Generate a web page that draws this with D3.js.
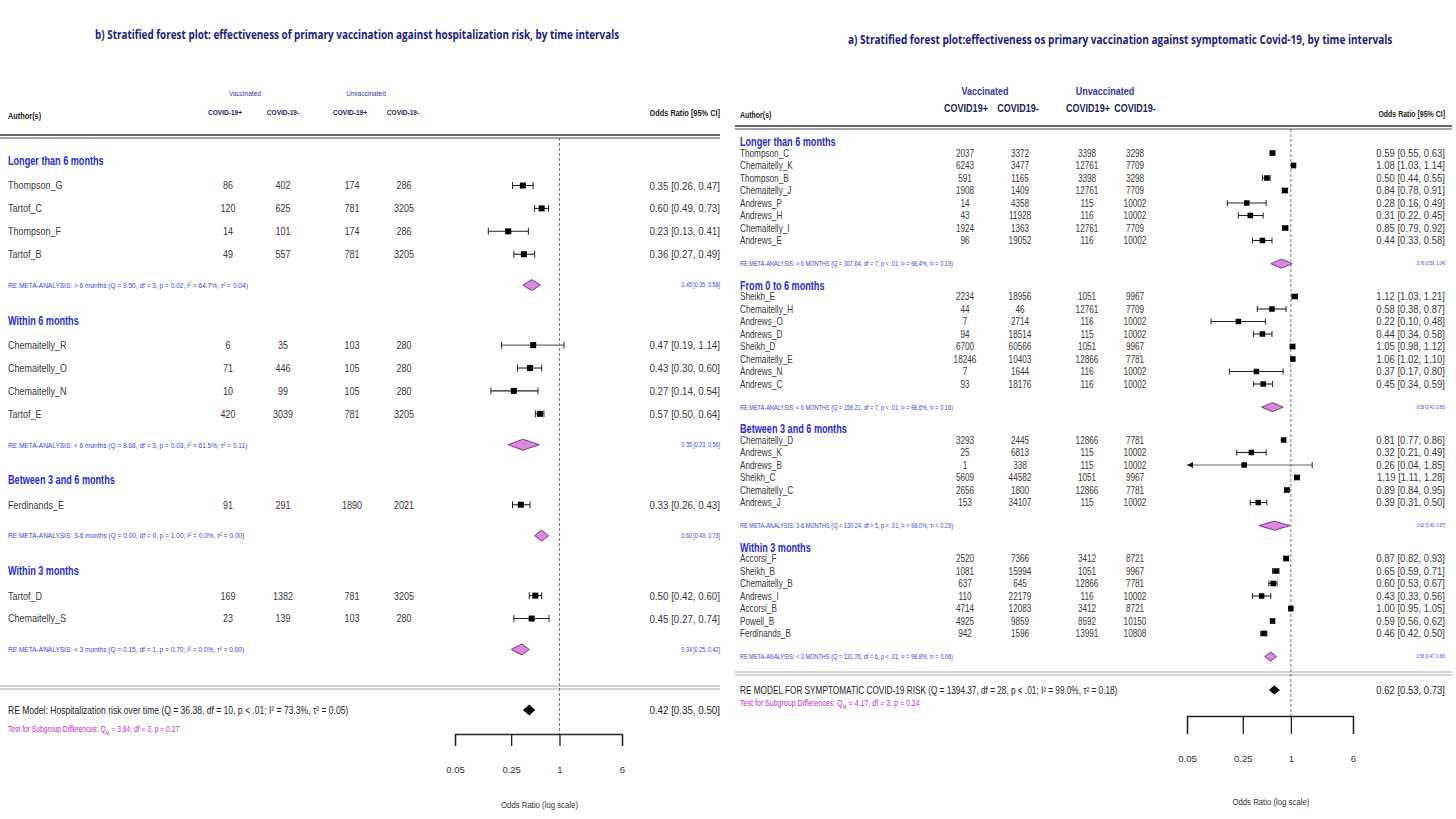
<!DOCTYPE html>
<html><head><meta charset="utf-8">
<script src="https://cdnjs.cloudflare.com/ajax/libs/d3/7.8.5/d3.min.js"></script>
<style>body{margin:0;background:#fff}svg{display:block}</style>
</head><body>
<svg id="chart" width="1456" height="819"></svg>
<script>
// ---------------- DATA: panel b (hospitalization) ----------------
const hospTitle = "b) Stratified forest plot: effectiveness of primary vaccination against hospitalization risk, by time intervals";
const hospGroups = ["Longer than 6 months","Within 6 months","Between 3 and 6 months","Within 3 months"];
const hospGroupSizes = [4,4,1,2];
const hospStudies = ["Thompson_G","Tartof_C","Thompson_F","Tartof_B","Chemaitelly_R","Chemaitelly_O","Chemaitelly_N","Tartof_E","Ferdinands_E","Tartof_D","Chemaitelly_S"];
const hospVaxPos = [86,120,14,49,6,71,10,420,91,169,23];
const hospVaxNeg = [402,625,101,557,35,446,99,3039,291,1382,139];
const hospUnvPos = [174,781,174,781,103,105,105,781,1890,781,103];
const hospUnvNeg = [286,3205,286,3205,280,280,280,3205,2021,3205,280];
const hospOR = [0.35,0.60,0.23,0.36,0.47,0.43,0.27,0.57,0.33,0.50,0.45];
const hospLo = [0.26,0.49,0.13,0.27,0.19,0.30,0.14,0.50,0.26,0.42,0.27];
const hospHi = [0.47,0.73,0.41,0.49,1.14,0.60,0.54,0.64,0.43,0.60,0.74];
const hospMetaLabels = [
  "RE META-ANALYSIS: > 6 months (Q = 9.50, df = 3, p = 0.02; I\u00b2 = 64.7%, \u03c4\u00b2 = 0.04)",
  "RE META-ANALYSIS: < 6 months (Q = 8.68, df = 3, p = 0.03; I\u00b2 = 61.5%, \u03c4\u00b2 = 0.11)",
  "RE META-ANALYSIS: 3-6 months (Q = 0.00, df = 0, p = 1.00; I\u00b2 = 0.0%, \u03c4\u00b2 = 0.00)",
  "RE META-ANALYSIS: < 3 months (Q = 0.15, df = 1, p = 0.70; I\u00b2 = 0.0%, \u03c4\u00b2 = 0.00)"];
const hospMetaOR = [0.45,0.35,0.60,0.34];
const hospMetaLo = [0.35,0.23,0.49,0.25];
const hospMetaHi = [0.58,0.56,0.73,0.42];
const hospOverall = [0.42,0.35,0.50];
const hospOverallLabel = "RE Model: Hospitalization risk over time (Q = 36.38, df = 10, p < .01; I\u00b2 = 73.3%, \u03c4\u00b2 = 0.05)";
const hospTest = ["Test for Subgroup Differences: Q", "M", " = 3.94, df = 3, p = 0.27"];
const hospColHeads = ["COVID-19+","COVID-19-","COVID-19+","COVID-19-"];

// ---------------- DATA: panel a (symptomatic) ----------------
const sympTitle = "a) Stratified forest plot:effectiveness os primary vaccination against symptomatic Covid-19, by time intervals";
const sympGroups = ["Longer than 6 months","From 0 to 6 months","Between 3 and 6 months","Within 3 months"];
const sympGroupSizes = [8,8,6,7];
const sympStudies = ["Thompson_C","Chemaitelly_K","Thompson_B","Chemaitelly_J","Andrews_P","Andrews_H","Chemaitelly_I","Andrews_E",
  "Sheikh_E","Chemaitelly_H","Andrews_O","Andrews_D","Sheikh_D","Chemaitelly_E","Andrews_N","Andrews_C",
  "Chemaitelly_D","Andrews_K","Andrews_B","Sheikh_C","Chemaitelly_C","Andrews_J",
  "Accorsi_F","Sheikh_B","Chemaitelly_B","Andrews_I","Accorsi_B","Powell_B","Ferdinands_B"];
const sympVaxPos = [2037,6243,591,1908,14,43,1924,96, 2234,44,7,94,6700,18246,7,93, 3293,25,1,5609,2656,153, 2520,1081,637,110,4714,4925,942];
const sympVaxNeg = [3372,3477,1165,1409,4358,11928,1363,19052, 18956,46,2714,18514,60566,10403,1644,18176, 2445,6813,338,44582,1800,34107, 7366,15994,645,22179,12083,9859,1596];
const sympUnvPos = [3398,12761,3398,12761,115,116,12761,116, 1051,12761,116,115,1051,12866,116,116, 12866,115,115,1051,12866,115, 3412,1051,12866,116,3412,8592,13991];
const sympUnvNeg = [3298,7709,3298,7709,10002,10002,7709,10002, 9967,7709,10002,10002,9967,7781,10002,10002, 7781,10002,10002,9967,7781,10002, 8721,9967,7781,10002,8721,10150,10808];
const sympOR = [0.59,1.08,0.50,0.84,0.28,0.31,0.85,0.44, 1.12,0.58,0.22,0.44,1.05,1.06,0.37,0.45, 0.81,0.32,0.26,1.19,0.89,0.39, 0.87,0.65,0.60,0.43,1.00,0.59,0.46];
const sympLo = [0.55,1.03,0.44,0.78,0.16,0.22,0.79,0.33, 1.03,0.38,0.10,0.34,0.98,1.02,0.17,0.34, 0.77,0.21,0.04,1.11,0.84,0.31, 0.82,0.59,0.53,0.33,0.95,0.56,0.42];
const sympHi = [0.63,1.14,0.55,0.91,0.49,0.45,0.92,0.58, 1.21,0.87,0.48,0.58,1.12,1.10,0.80,0.59, 0.86,0.49,1.85,1.28,0.95,0.50, 0.93,0.71,0.67,0.56,1.05,0.62,0.50];
const sympMetaLabels = [
  "RE META-ANALYSIS: > 6 MONTHS (Q = 307.64, df = 7, p < .01; I\u00b2 = 98.4%, \u03c4\u00b2 = 0.19)",
  "RE META-ANALYSIS: < 6 MONTHS (Q = 159.21, df = 7, p < .01; I\u00b2 = 98.6%, \u03c4\u00b2 = 0.16)",
  "RE META-ANALYSIS: 3-6 MONTHS (Q = 130.24, df = 5, p < .01; I\u00b2 = 98.0%, \u03c4\u00b2 = 0.29)",
  "RE META-ANALYSIS: < 3 MONTHS (Q = 131.76, df = 6, p < .01; I\u00b2 = 98.8%, \u03c4\u00b2 = 0.06)"];
const sympMetaOR = [0.76,0.59,0.62,0.56];
const sympMetaLo = [0.56,0.43,0.40,0.47];
const sympMetaHi = [1.04,0.80,0.97,0.66];
const sympOverall = [0.62,0.53,0.73];
const sympOverallLabel = "RE MODEL FOR SYMPTOMATIC COVID-19 RISK (Q = 1394.37, df = 28, p < .01; I\u00b2 = 99.0%, \u03c4\u00b2 = 0.18)";
const sympTest = ["Test for Subgroup Differences: Q", "M", " = 4.17, df = 3, p = 0.24"];
const sympColHeads = ["COVID19+","COVID19-","COVID19+","COVID19-"];

// ---------------- shared ----------------
const axisTicks = [0.05, 0.25, 1, 6];
const groupHeads = ["Vaccinated","Unvaccinated"];

const svg = d3.select("#chart");
const FONT = "'Liberation Sans', Arial, sans-serif";

function T(g, x, y, s, o = {}) {
  const t = g.append("text")
    .attr("dy", "0.35em")
    .attr("text-anchor", o.anchor || "start")
    .attr("font-family", o.family || FONT)
    .attr("font-size", o.size || 10)
    .attr("font-weight", o.weight || "normal")
    .attr("fill", o.color || "#333")
    .text(s);
  let sx = o.sx ?? 0.82;
  if (o.len) { sx = o.len / t.node().getComputedTextLength(); }
  t.attr("transform", `translate(${x},${y}) scale(${sx},1)`);
  return t;
}
const fmtCI = (a, b, c) => `${a.toFixed(2)} [${b.toFixed(2)}, ${c.toFixed(2)}]`;

function forest(c) {
  const g = svg.append("g");
  const x = d3.scaleLog().domain([axisTicks[0], axisTicks[axisTicks.length - 1]]).range(c.xRange);
  const y = d3.scaleLinear().domain([0, 1]).range([c.y0, c.y0 + c.rowH]);

  // compute row units
  let u = 0, idx = 0;
  const heads = [], rows = [], metas = [];
  c.groups.forEach((name, gi) => {
    heads.push({ name, u });
    u += c.hg;
    for (let k = 0; k < c.sizes[gi]; k++) { rows.push({ i: idx++, u }); u += 1; }
    u -= 1;
    u += c.mg;
    metas.push({ gi, u });
    u += c.ng;
  });

  // title
  T(g, c.titleX, c.titleY, c.title, { family: "'Open Sans', 'Liberation Sans', sans-serif", weight: "bold", size: 12.5, color: "#1c1c80", len: c.titleLen });

  // column headers
  T(g, c.vaxX[0], c.vaxY, groupHeads[0], { anchor: "middle", size: c.vaxSize, color: "#35359a", weight: c.vaxWeight });
  T(g, c.vaxX[1], c.vaxY, groupHeads[1], { anchor: "middle", size: c.vaxSize, color: "#35359a", weight: c.vaxWeight });
  c.colHeads.forEach((h, k) => T(g, c.headX[k], c.headY, h, { anchor: "middle", size: c.headSize, weight: "bold", color: "#1d1d5e" }));
  T(g, c.nameX, c.authY, "Author(s)", { size: c.authSize, weight: "bold", color: "#222" });
  T(g, c.ciX, c.orHeadY, "Odds Ratio [95% CI]", { anchor: "end", size: c.authSize, weight: "bold", color: "#222" });

  // double lines
  [c.topLine, c.botLine].forEach((ly, k) => {
    [0, 3].forEach(d => g.append("line").attr("x1", c.lineX[0]).attr("x2", c.lineX[1])
      .attr("y1", ly + d).attr("y2", ly + d)
      .attr("stroke", k === 0 ? (d ? "#888" : "#333") : "#aaa").attr("stroke-width", k === 0 ? 1.4 : 1.1));
  });

  // reference line at OR = 1
  g.append("line").attr("x1", x(1)).attr("x2", x(1)).attr("y1", c.topLine + 3).attr("y2", c.axisY)
    .attr("stroke", "#555").attr("stroke-width", 0.8).attr("stroke-dasharray", "3,2");

  // group headers
  heads.forEach(h => T(g, c.nameX, y(h.u), h.name, { size: c.grpSize, weight: "bold", color: "#2a2ad2", sx: 0.76 }));

  // studies
  const xmin = axisTicks[0];
  rows.forEach(r => {
    const i = r.i, yy = y(r.u);
    T(g, c.nameX, yy, c.studies[i], { size: c.nameSize, color: "#383838" });
    [c.vaxPos, c.vaxNeg, c.unvPos, c.unvNeg].forEach((arr, k) =>
      T(g, c.colX[k], yy, String(arr[i]), { anchor: "middle", size: c.nameSize, color: "#383838" }));
    const lo = Math.max(c.lo[i], xmin);
    g.append("line").attr("x1", x(lo)).attr("x2", x(c.hi[i])).attr("y1", yy).attr("y2", yy)
      .attr("stroke", c.hi[i] / c.lo[i] > 5 ? "#666" : "#222").attr("stroke-width", 1.1);
    if (c.lo[i] < xmin) {
      g.append("path").attr("d", d3.line()([[x(xmin), yy], [x(xmin) + 6, yy - 3], [x(xmin) + 6, yy + 3]]) + "Z").attr("fill", "#111");
    } else {
      g.append("line").attr("x1", x(lo)).attr("x2", x(lo)).attr("y1", yy - c.cap).attr("y2", yy + c.cap).attr("stroke", "#222").attr("stroke-width", 1);
    }
    g.append("line").attr("x1", x(c.hi[i])).attr("x2", x(c.hi[i])).attr("y1", yy - c.cap).attr("y2", yy + c.cap).attr("stroke", "#222").attr("stroke-width", 1);
    g.append("rect").attr("x", x(c.or[i]) - c.sq / 2).attr("y", yy - c.sq / 2).attr("width", c.sq).attr("height", c.sq).attr("fill", "#000");
    T(g, c.ciX, yy, fmtCI(c.or[i], c.lo[i], c.hi[i]), { anchor: "end", size: c.ciSize, color: "#383838", sx: c.ciSx });
  });

  // meta rows
  const diamond = (o, l, h, yy, hh) => `M${x(l)},${yy}L${x(o)},${yy - hh}L${x(h)},${yy}L${x(o)},${yy + hh}Z`;
  metas.forEach(m => {
    const yy = y(m.u), k = m.gi;
    T(g, c.nameX, yy, c.metaLabels[k], { size: c.metaSize, color: "#4040d8" });
    g.append("path").attr("d", diamond(c.metaOR[k], c.metaLo[k], c.metaHi[k], yy, c.dh))
      .attr("fill", "#d98ad9").attr("stroke", "#7b2f8e").attr("stroke-width", 1);
    T(g, c.ciX, yy, fmtCI(c.metaOR[k], c.metaLo[k], c.metaHi[k]), { anchor: "end", size: c.metaCiSize, color: "#4040d8" });
  });

  // overall
  T(g, c.nameX, c.reY, c.overallLabel, { size: c.reSize, color: "#222", sx: c.reSx });
  g.append("path").attr("d", diamond(c.overall[0], c.overall[1], c.overall[2], c.reY, c.dh)).attr("fill", "#000");
  T(g, c.ciX, c.reY, fmtCI(...c.overall), { anchor: "end", size: c.ciSize, color: "#222", sx: c.ciSx });
  const tt = T(g, c.nameX, c.testY, c.test[0], { size: c.testSize, color: "#c02ec8" });
  tt.append("tspan").attr("font-size", c.testSize * 0.7).attr("baseline-shift", "sub").text(c.test[1]);
  tt.append("tspan").text(c.test[2]);

  // axis
  const ax = d3.axisBottom(x).tickValues(axisTicks).tickFormat(d => String(d))
    .tickSize(c.tickLen).tickSizeOuter(c.tickLen).tickPadding(c.tickPad);
  const ag = g.append("g").attr("transform", `translate(0,${c.axisY})`).call(ax);
  ag.selectAll("path,line").attr("stroke", "#222").attr("stroke-width", 1.3);
  ag.selectAll("text").attr("font-family", FONT).attr("font-size", 9.5).attr("fill", "#333");
  T(g, x(1) - 20, c.xlabY, "Odds Ratio (log scale)", { anchor: "middle", size: 9.5, color: "#333" });
}

forest({
  title: hospTitle, titleX: 95, titleY: 35, titleLen: 525,
  groups: hospGroups, sizes: hospGroupSizes, studies: hospStudies,
  vaxPos: hospVaxPos, vaxNeg: hospVaxNeg, unvPos: hospUnvPos, unvNeg: hospUnvNeg,
  or: hospOR, lo: hospLo, hi: hospHi,
  metaLabels: hospMetaLabels, metaOR: hospMetaOR, metaLo: hospMetaLo, metaHi: hospMetaHi,
  overall: hospOverall, overallLabel: hospOverallLabel, test: hospTest, colHeads: hospColHeads,
  xRange: [455, 622], y0: 161, rowH: 22.9, hg: 1.07, mg: 1.35, ng: 1.55,
  nameX: 8, colX: [228, 283, 352, 404], headX: [225, 283, 350, 403], headY: 112, headSize: 8,
  vaxX: [245, 366], vaxY: 93, vaxSize: 8, vaxWeight: "normal",
  authY: 116, orHeadY: 113, authSize: 9, ciX: 720, lineX: [0, 720],
  topLine: 135, botLine: 686, grpSize: 12, nameSize: 11, ciSize: 11.5, ciSx: 0.85,
  metaSize: 8, metaCiSize: 6.5, reY: 710, reSize: 10.7, reSx: 0.8, testY: 729, testSize: 8.2,
  sq: 6, cap: 3.5, dh: 5.5, axisY: 734, tickLen: 12, tickPad: 20, xlabY: 805
});

forest({
  title: sympTitle, titleX: 848, titleY: 40, titleLen: 545,
  groups: sympGroups, sizes: sympGroupSizes, studies: sympStudies,
  vaxPos: sympVaxPos, vaxNeg: sympVaxNeg, unvPos: sympUnvPos, unvNeg: sympUnvNeg,
  or: sympOR, lo: sympLo, hi: sympHi,
  metaLabels: sympMetaLabels, metaOR: sympMetaOR, metaLo: sympMetaLo, metaHi: sympMetaHi,
  overall: sympOverall, overallLabel: sympOverallLabel, test: sympTest, colHeads: sympColHeads,
  xRange: [1187, 1353], y0: 142, rowH: 12.5, hg: 0.88, mg: 1.85, ng: 1.75,
  nameX: 740, colX: [965, 1020, 1087, 1135], headX: [966, 1018, 1088, 1135], headY: 108, headSize: 11,
  vaxX: [985, 1105], vaxY: 91, vaxSize: 11, vaxWeight: "bold",
  authY: 115, orHeadY: 114, authSize: 8.5, ciX: 1445, lineX: [735, 1452],
  topLine: 126, botLine: 672, grpSize: 12, nameSize: 10, ciSize: 10, ciSx: 0.95,
  metaSize: 6.8, metaCiSize: 4.8, reY: 690, reSize: 10.3, reSx: 0.8, testY: 703, testSize: 8.6,
  sq: 5.5, cap: 3, dh: 4.5, axisY: 716, tickLen: 18, tickPad: 21, xlabY: 802
});
</script>
</body></html>
